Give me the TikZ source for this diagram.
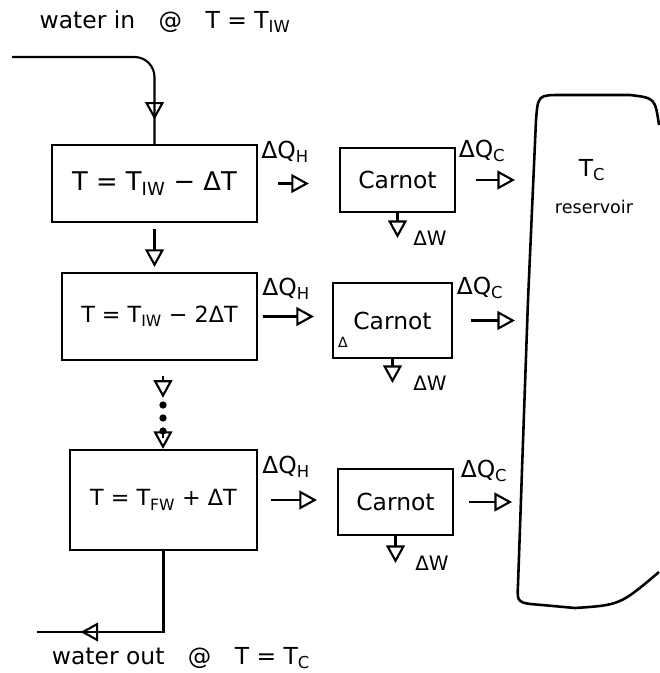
\documentclass[tikz,border=0pt]{standalone}
\usepackage{fontspec}
\setmainfont{DejaVu Sans}
\usetikzlibrary{arrows.meta,decorations.markings}

\begin{document}
\begin{tikzpicture}[x=0.03cm,y=-0.03cm,
    font=\fontsize{20}{24}\selectfont,
    tip/.style={line width=1.8pt,-{Triangle[open,length=15pt,width=16pt]}},
    midtip/.style={line width=1.8pt,postaction={decorate},decoration={markings,
        mark=at position #1 with {\arrow{Triangle[open,length=15pt,width=16pt]}}}},
    water/.style={draw,line width=1.8pt,inner sep=0pt},
    engine/.style={draw,line width=1.8pt,inner sep=0pt},
    small/.style={font=\fontsize{17}{20}\selectfont}]
            \useasboundingbox (0,0) rectangle (659,673);
            \node (inlabel) at (165,22) {water in\quad @\quad T = T\textsubscript{IW}};
            \node (outlabel) at (181,658) {water out\quad @\quad T = T\textsubscript{C}};
            \node[water,font=\fontsize{22}{26}\selectfont,minimum width=6.15cm,minimum height=2.31cm] (w1) at (154.5,183.5) {T = T\textsubscript{IW} − ΔT};
            \node[water,font=\fontsize{19}{23}\selectfont,minimum width=5.85cm,minimum height=2.61cm] (w2) at (159.5,316.5) {T = T\textsubscript{IW} − 2ΔT};
            \node[water,font=\fontsize{19}{23}\selectfont,minimum width=5.61cm,minimum height=3cm] (w3) at (163.5,500) {T = T\textsubscript{FW} + ΔT};
            \node[engine,minimum width=3.45cm,minimum height=1.92cm] (c1) at (397.5,180) {Carnot};
            \node[engine,minimum width=3.57cm,minimum height=2.25cm] (c2) at (392.5,320.5) {Carnot};
            \node[engine,minimum width=3.45cm,minimum height=1.98cm] (c3) at (395.5,502) {Carnot};
            \node[font=\fontsize{12}{14}\selectfont] (stray) at (343,342) {Δ};
            \node (qh1) at (285,152) {ΔQ\textsubscript{H}};
            \node (qh2) at (286,289) {ΔQ\textsubscript{H}};
            \node (qh3) at (286,467) {ΔQ\textsubscript{H}};
            \node (qc1) at (482,151) {ΔQ\textsubscript{C}};
            \node (qc2) at (480,288) {ΔQ\textsubscript{C}};
            \node (qc3) at (484,471) {ΔQ\textsubscript{C}};
            \node[small] (dw1) at (430,238) {ΔW};
            \node[small] (dw2) at (430,383) {ΔW};
            \node[small] (dw3) at (432,563) {ΔW};
            \node (tc) at (592,170) {T\textsubscript{C}};
            \node[font=\fontsize{15}{18}\selectfont] (resname) at (594,207) {reservoir};
            \node[minimum height=1.2cm,inner sep=0pt] (dots) at (163,418) {};
            \coordinate (inlet) at (12,57);
            \coordinate (outlet) at (37,632);
            \coordinate (res1) at (533,181);
            \coordinate (res2) at (528,320);
            \coordinate (res3) at (522,500);
            \draw[line width=2.2pt,line join=round] (659,125) .. controls (655,98) .. (630,95) -- (562,95)
                .. controls (538,95) .. (536,120) -- (528,300) -- (522,470) -- (518,585)
                .. controls (517,603) .. (542,605) -- (575,608) .. controls (620,605) .. (659,572);
            \foreach \y in {405,418,431} \fill (dots |- 0,\y) circle[radius=0.11cm];
            \draw[midtip=0.89,rounded corners=0.6cm] (inlet) -| (w1.north);
            \draw[midtip=0.79] (w3.south) |- (outlet);
            \draw[tip,shorten <=0.18cm,shorten >=0.15cm] (w1.south) -- (w1.south |- w2.north);
            \draw[tip,shorten <=0.45cm] (dots |- w2.south) -- (dots.north);
            \draw[tip] (dots.south) -- (dots |- w3.north);
            \draw[tip,shorten <=0.6cm,shorten >=0.9cm] (w1.east) -- (w1.east -| c1.west);
            \draw[tip,shorten <=0.15cm,shorten >=0.54cm] (w2.east) -- (w2.east -| c2.west);
            \draw[tip,shorten <=0.39cm,shorten >=0.6cm] (w3.east) -- (w3.east -| c3.west);
            \draw[tip,shorten <=0.6cm,shorten >=0.54cm] (c1.east) -- (c1.east -| res1);
            \draw[tip,shorten <=0.54cm,shorten >=0.39cm] (c2.east) -- (c2.east -| res2);
            \draw[tip,shorten <=0.45cm,shorten >=0.3cm] (c3.east) -- (c3.east -| res3);
            \draw[tip] (c1.south) -- (c1.south |- dw1.center);
            \draw[tip] (c2.south) -- (c2.south |- dw2.center);
            \draw[tip] (c3.south) -- (c3.south |- dw3.center);
          \end{tikzpicture}
\end{document}
